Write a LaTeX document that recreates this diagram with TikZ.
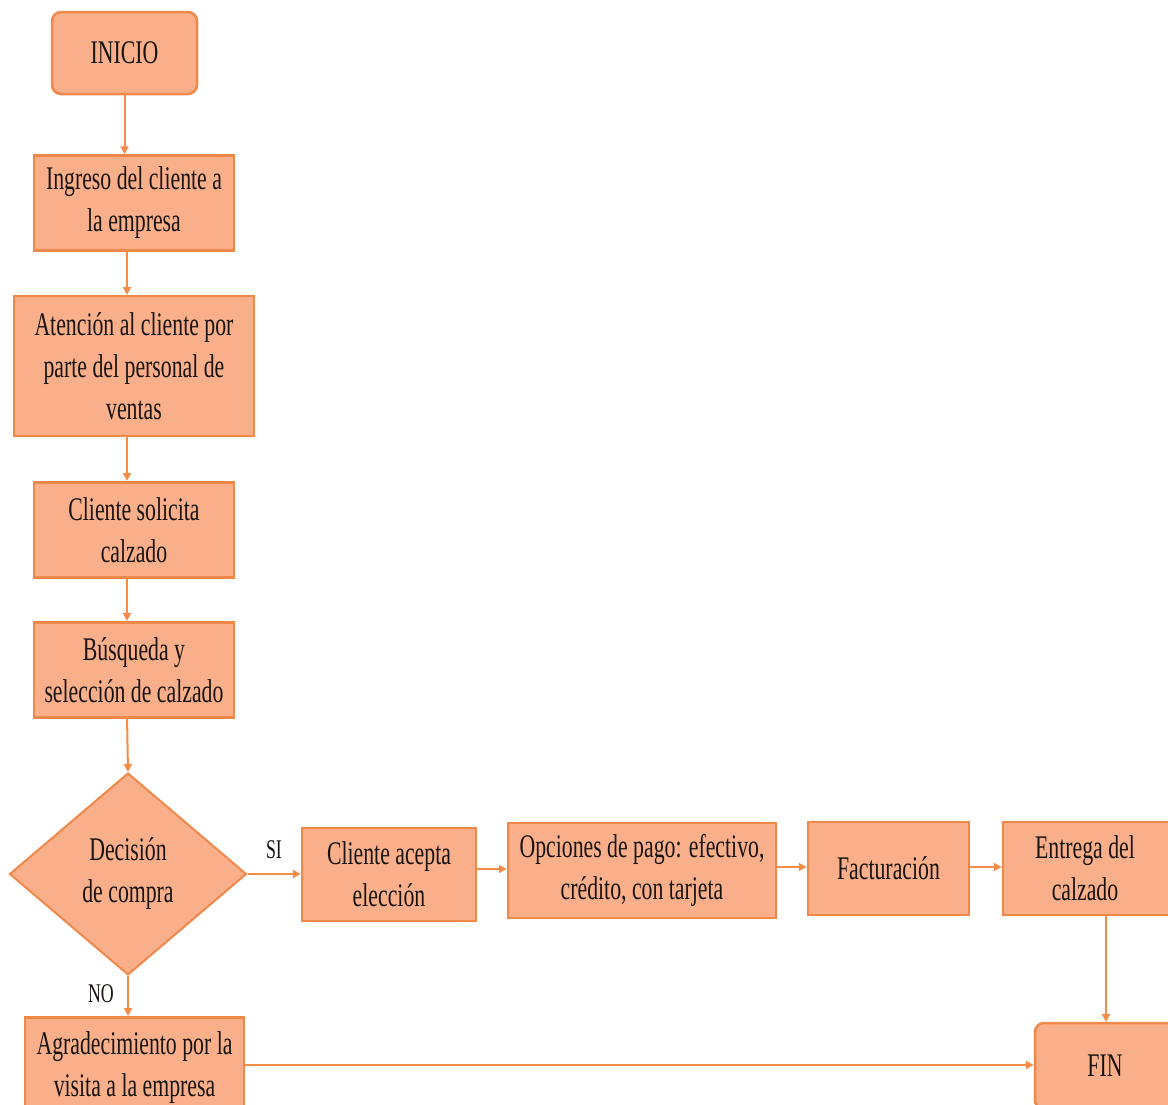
\documentclass[tikz,border=0pt]{standalone}
\usepackage{fontspec}
\setmainfont[FakeStretch=0.66]{Liberation Serif}
\usetikzlibrary{shapes.geometric,arrows.meta}
\definecolor{boxfill}{RGB}{249,176,138}
\definecolor{boxline}{RGB}{240,136,74}
\definecolor{arr}{RGB}{243,140,72}
\definecolor{txt}{RGB}{25,20,18}
\begin{document}
\begin{tikzpicture}[x=1pt,y=-1pt,
  font=\fontsize{33}{42}\selectfont,
  box/.style={draw=boxline,fill=boxfill,line width=2.5pt,align=center,text=txt,inner sep=0pt},
  term/.style={box,rounded corners=9pt},
  deci/.style={box,diamond,line width=2pt},
  flow/.style={draw=arr,line width=2pt,-{Triangle[length=8pt,width=8pt]}},
  lbl/.style={text=txt,font=\fontsize{27}{30}\selectfont}]
\useasboundingbox (0,0) rectangle (1168,1104);
\clip (0,0) rectangle (1168,1104);
\node[term,minimum width=145pt,minimum height=82pt] (ini) at (124.5,53) {INICIO};
\node[box,minimum width=200pt,minimum height=95pt] (ing) at (134,203) {Ingreso del cliente a\\la empresa};
\node[box,minimum width=240pt,minimum height=140pt] (ate) at (134,366) {Atención al cliente por\\parte del personal de\\ventas};
\node[box,minimum width=200pt,minimum height=95pt] (sol) at (134,530) {Cliente solicita\\calzado};
\node[box,minimum width=200pt,minimum height=95pt] (bus) at (134,670) {Búsqueda y\\selección de calzado};
\node[deci,minimum width=237pt,minimum height=202pt] (dec) at (128,874) {Decisión\\de compra};
\node[box,minimum width=174pt,minimum height=93pt] (acp) at (389,874.5) {Cliente acepta\\elección};
\node[box,minimum width=268pt,minimum height=95pt] (opc) at (642,870.5) {Opciones de pago: efectivo,\\crédito, con tarjeta};
\node[box,minimum width=161pt,minimum height=93pt] (fac) at (888.5,868.5) {Facturación};
\node[box,minimum width=170pt,minimum height=93pt] (ent) at (1088,868.5) {\hspace*{-6pt}Entrega del\\\hspace*{-6pt}calzado};
\node[term,minimum width=150pt,minimum height=86pt] (fin) at (1110,1066) {\hspace*{-10pt}FIN};
\node[box,minimum width=219pt,minimum height=100pt,anchor=north] (agr) at (134.5,1016) {Agradecimiento por la\\visita a la empresa};
\draw[flow] (ini.south) -- (ini.south |- ing.north);
\draw[flow] (127,249) -- (127,295);
\draw[flow] (127,435) -- (127,481);
\draw[flow] (127,576) -- (127,621);
\draw[flow] (127,716) -- (dec.north);
\draw[flow] (dec.east) -- (acp.west |- dec.east);
\draw[flow] (acp.east |- 0,869) -- (opc.west |- 0,869);
\draw[flow] (opc.east |- 0,867) -- (fac.west |- 0,867);
\draw[flow] (fac.east |- 0,867) -- (ent.west |- 0,867);
\draw[flow] (dec.south) -- (dec.south |- agr.north);
\draw[flow] (1106,914) -- (1106,1022);
\draw[flow] (agr.east |- 0,1065) -- (fin.west |- 0,1065);
\node[lbl] (si) at (274,850) {SI};
\node[lbl] (no) at (101,994) {NO};
\end{tikzpicture}
\end{document}
